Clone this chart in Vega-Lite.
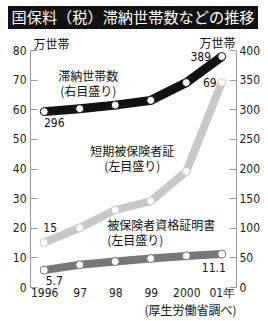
{
  "$schema": "https://vega.github.io/schema/vega-lite/v6.json",
  "padding": {"left": 8, "top": 6, "right": 2, "bottom": 2},
  "background": "white",
  "bounds": "flush",
  "center": true,
  "spacing": 21,
  "config": {"view": {"stroke": null}, "font": "Noto Sans CJK JP"},
  "datasets": {
    "d": [
      {"year": "1996", "series": "滞納世帯数", "v": 296},
      {"year": "97", "series": "滞納世帯数", "v": 301},
      {"year": "98", "series": "滞納世帯数", "v": 307},
      {"year": "99", "series": "滞納世帯数", "v": 315},
      {"year": "2000", "series": "滞納世帯数", "v": 345},
      {"year": "01", "series": "滞納世帯数", "v": 389},
      {"year": "1996", "series": "短期被保険者証", "v": 15},
      {"year": "97", "series": "短期被保険者証", "v": 20},
      {"year": "98", "series": "短期被保険者証", "v": 26},
      {"year": "99", "series": "短期被保険者証", "v": 29},
      {"year": "2000", "series": "短期被保険者証", "v": 39},
      {"year": "01", "series": "短期被保険者証", "v": 69},
      {"year": "1996", "series": "被保険者資格証明書", "v": 5.7},
      {"year": "97", "series": "被保険者資格証明書", "v": 7.5},
      {"year": "98", "series": "被保険者資格証明書", "v": 8.6},
      {"year": "99", "series": "被保険者資格証明書", "v": 9.6},
      {"year": "2000", "series": "被保険者資格証明書", "v": 10.5},
      {"year": "01", "series": "被保険者資格証明書", "v": 11.1}
    ]
  },
  "vconcat": [
    {
      "width": 250,
      "height": 23,
      "view": {"fill": "#111111", "stroke": null},
      "data": {"values": [{"t": "国保料（税）滞納世帯数などの推移"}]},
      "mark": {"type": "text", "color": "white", "fontSize": 15.2, "font": "Noto Sans CJK JP"},
      "encoding": {"text": {"field": "t"}}
    },
    {
      "width": 206,
      "height": 237,
      "data": {"name": "d"},
      "encoding": {
        "x": {
          "field": "year", "type": "ordinal",
          "sort": ["1996", "97", "98", "99", "2000", "01"],
          "scale": {"type": "point", "padding": 0.4},
          "axis": {
            "title": "(厚生労働省調べ)", "titleAnchor": "end", "titleFontSize": 12,
            "titleFontWeight": "normal", "titleFont": "Noto Sans CJK JP", "titleColor": "#111",
            "titleBaseline": "middle", "titleY": 23,
            "domain": false, "ticks": false, "labelAngle": 0,
            "labelPadding": 0, "labelFontSize": 12, "labelFont": "Liberation Sans Narrow, DejaVu Sans Condensed, sans-serif",
            "labelColor": "#222",
            "labelExpr": "datum.value == '01' ? '01年' : datum.value"
          }
        }
      },
      "layer": [
        {
          "transform": [{"filter": "datum.series != '滞納世帯数'"}],
          "encoding": {
            "y": {
              "field": "v", "type": "quantitative",
              "scale": {"domain": [0, 80]},
              "axis": {
                "orient": "left", "values": [0, 10, 20, 30, 40, 50, 60, 70, 80],
                "title": "万世帯", "titleAngle": 0, "titleAlign": "left", "titleBaseline": "bottom",
                "titleX": 3, "titleY": 1, "titleFontSize": 12, "titleFontWeight": "normal",
                "titleFont": "Noto Sans CJK JP", "titleColor": "#111",
                "grid": false, "domainColor": "#999", "tickColor": "#999", "tickSize": -7,
                "labelPadding": 11, "labelFontSize": 12, "labelFont": "Liberation Sans Narrow, DejaVu Sans Condensed, sans-serif",
                "labelColor": "#222"
              }
            }
          },
          "layer": [
            {
              "mark": {"type": "line", "strokeWidth": 8, "strokeCap": "butt"},
              "encoding": {
                "color": {"field": "series", "type": "nominal",
                  "scale": {"domain": ["滞納世帯数", "短期被保険者証", "被保険者資格証明書"], "range": ["#111111", "#c8c8c8", "#777777"]},
                  "legend": null}
              }
            },
            {
              "mark": {"type": "point", "shape": "circle", "filled": true, "fill": "white", "size": 64, "strokeWidth": 1, "opacity": 1},
              "encoding": {
                "stroke": {"field": "series", "type": "nominal",
                  "scale": {"domain": ["滞納世帯数", "短期被保険者証", "被保険者資格証明書"], "range": ["#111111", "#c8c8c8", "#777777"]},
                  "legend": null}
              }
            },
            {
              "transform": [{"filter": "datum.series == '短期被保険者証' && datum.year == '1996'"}],
              "mark": {"type": "text", "dx": 6, "dy": -15, "fontSize": 12, "font": "Liberation Sans Narrow, DejaVu Sans Condensed, sans-serif", "color": "#111"},
              "encoding": {"text": {"field": "v"}}
            },
            {
              "transform": [{"filter": "datum.series == '短期被保険者証' && datum.year == '01'"}],
              "mark": {"type": "text", "dx": -12, "dy": 0, "fontSize": 12, "font": "Liberation Sans Narrow, DejaVu Sans Condensed, sans-serif", "color": "#111"},
              "encoding": {"text": {"field": "v"}}
            },
            {
              "transform": [{"filter": "datum.series == '被保険者資格証明書' && datum.year == '1996'"}],
              "mark": {"type": "text", "dx": 10, "dy": 11, "fontSize": 12, "font": "Liberation Sans Narrow, DejaVu Sans Condensed, sans-serif", "color": "#111"},
              "encoding": {"text": {"field": "v"}}
            },
            {
              "transform": [{"filter": "datum.series == '被保険者資格証明書' && datum.year == '01'"}],
              "mark": {"type": "text", "dx": -8, "dy": 14, "fontSize": 12, "font": "Liberation Sans Narrow, DejaVu Sans Condensed, sans-serif", "color": "#111"},
              "encoding": {"text": {"field": "v"}}
            },
            {
              "transform": [{"filter": "datum.series == '短期被保険者証' && datum.year == '98'"}],
              "mark": {"type": "text", "lineBreak": "\n", "lineHeight": 15, "fontSize": 12, "color": "#111", "dx": 17, "dy": -58, "font": "Noto Sans CJK JP"},
              "encoding": {"text": {"value": "短期被保険者証\n  (左目盛り)"}}
            },
            {
              "transform": [{"filter": "datum.series == '被保険者資格証明書' && datum.year == '98'"}],
              "mark": {"type": "text", "lineBreak": "\n", "lineHeight": 15, "fontSize": 12, "color": "#111", "align": "left", "dx": -8, "dy": -36, "font": "Noto Sans CJK JP"},
              "encoding": {"text": {"value": "被保険者資格証明書\n (左目盛り)"}}
            }
          ]
        },
        {
          "transform": [{"filter": "datum.series == '滞納世帯数'"}],
          "encoding": {
            "y": {
              "field": "v", "type": "quantitative",
              "scale": {"domain": [0, 400]},
              "axis": {
                "orient": "right", "values": [0, 50, 100, 150, 200, 250, 300, 350, 400],
                "title": "万世帯", "titleAngle": 0, "titleAlign": "right", "titleBaseline": "bottom",
                "titleX": -1, "titleY": 0, "titleFontSize": 12, "titleFontWeight": "normal",
                "titleFont": "Noto Sans CJK JP", "titleColor": "#111",
                "grid": false, "domainColor": "#999", "tickColor": "#999", "tickSize": -7,
                "labelPadding": 10, "labelFontSize": 12, "labelFont": "Liberation Sans Narrow, DejaVu Sans Condensed, sans-serif",
                "labelColor": "#222"
              }
            }
          },
          "layer": [
            {
              "mark": {"type": "line", "strokeWidth": 9, "strokeCap": "butt", "color": "#111111"}
            },
            {
              "mark": {"type": "point", "shape": "circle", "filled": true, "fill": "white", "stroke": "#111111", "size": 64, "strokeWidth": 1, "opacity": 1}
            },
            {
              "transform": [{"filter": "datum.year == '1996'"}],
              "mark": {"type": "text", "dx": 10, "dy": 11, "fontSize": 12, "font": "Liberation Sans Narrow, DejaVu Sans Condensed, sans-serif", "color": "#111"},
              "encoding": {"text": {"field": "v"}}
            },
            {
              "transform": [{"filter": "datum.year == '01'"}],
              "mark": {"type": "text", "dx": -21, "dy": 0, "fontSize": 12, "font": "Liberation Sans Narrow, DejaVu Sans Condensed, sans-serif", "color": "#111"},
              "encoding": {"text": {"field": "v"}}
            },
            {
              "transform": [{"filter": "datum.year == '1996'"}],
              "mark": {"type": "text", "lineBreak": "\n", "lineHeight": 15, "fontSize": 12, "color": "#111", "dx": 44, "dy": -35, "font": "Noto Sans CJK JP"},
              "encoding": {"text": {"value": "滞納世帯数\n(右目盛り)"}}
            }
          ]
        }
      ],
      "resolve": {"scale": {"y": "independent"}}
    }
  ]
}
